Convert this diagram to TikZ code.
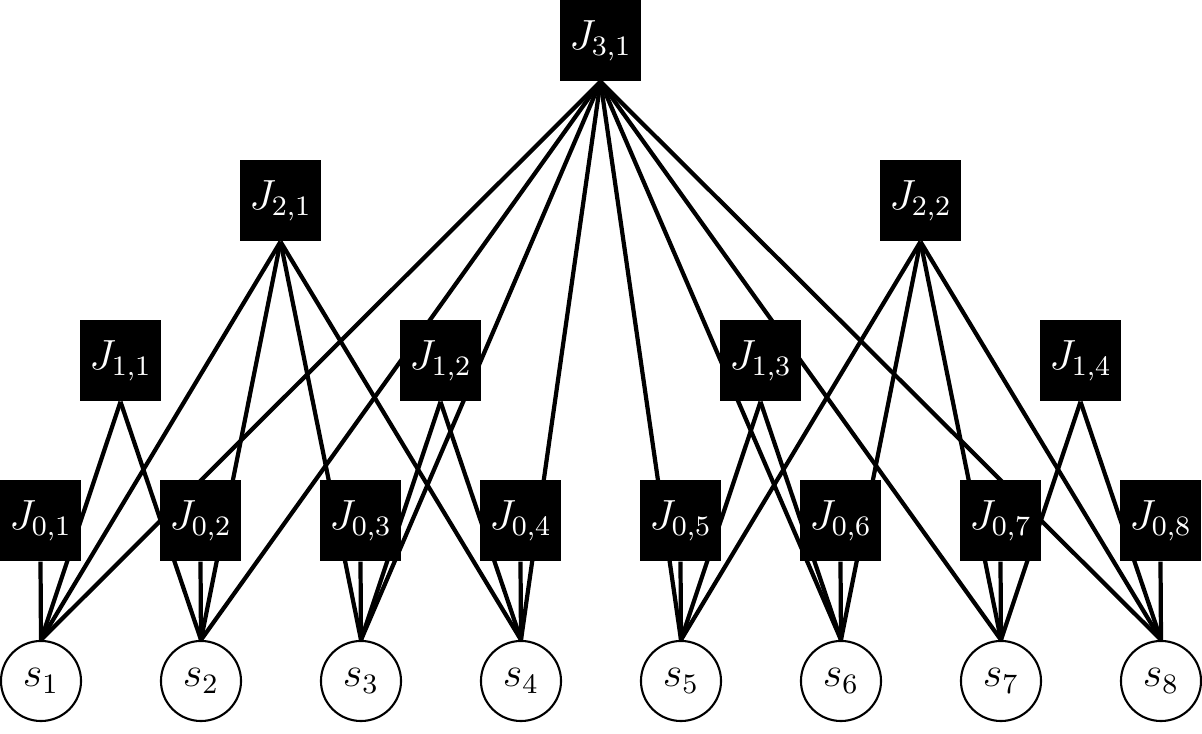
\documentclass[tikz,border=0pt]{standalone}
\pgfdeclarelayer{background}
\pgfsetlayers{background,main}
\begin{document}
\begin{tikzpicture}[x=0.01cm,y=-0.01cm,
  jbox/.style={fill=black,text=white,minimum size=0.81cm,inner sep=0pt,font=\large},
  snode/.style={circle,draw=black,line width=0.6pt,minimum size=0.8cm,inner sep=0pt,font=\large},
  edge/.style={line width=1.2pt}]
\useasboundingbox (0,0) rectangle (1202,734);
% level nodes
\node[jbox] (J31) at (600.5,40.5) {$J_{3,1}$};
\node[jbox] (J21) at (280.5,200.5) {$J_{2,1}$};
\node[jbox] (J22) at (920.5,200.5) {$J_{2,2}$};
\foreach \k in {1,...,4}{
  \node[jbox] (J1\k) at ({120.5+320*(\k-1)},360.5) {$J_{1,\k}$};
}
\foreach \i in {1,...,8}{
  \node[jbox] (J0\i) at ({40.5+160*(\i-1)},520.5) {$J_{0,\i}$};
  \node[snode] (s\i) at ({41+160*(\i-1)},681) {$s_{\i}$};
}
\begin{pgfonlayer}{background}
\foreach \i in {1,...,8}{
  \draw[edge] (J0\i.south) -- (s\i.north);
  \draw[edge] (J31.south) -- (s\i.north);
}
\foreach \k [evaluate=\k as \a using int(2*\k-1), evaluate=\k as \b using int(2*\k)] in {1,...,4}{
  \draw[edge] (J1\k.south) -- (s\a.north);
  \draw[edge] (J1\k.south) -- (s\b.north);
}
\foreach \i in {1,...,4}{
  \draw[edge] (J21.south) -- (s\i.north);
}
\foreach \i in {5,...,8}{
  \draw[edge] (J22.south) -- (s\i.north);
}
\end{pgfonlayer}
\end{tikzpicture}
\end{document}
